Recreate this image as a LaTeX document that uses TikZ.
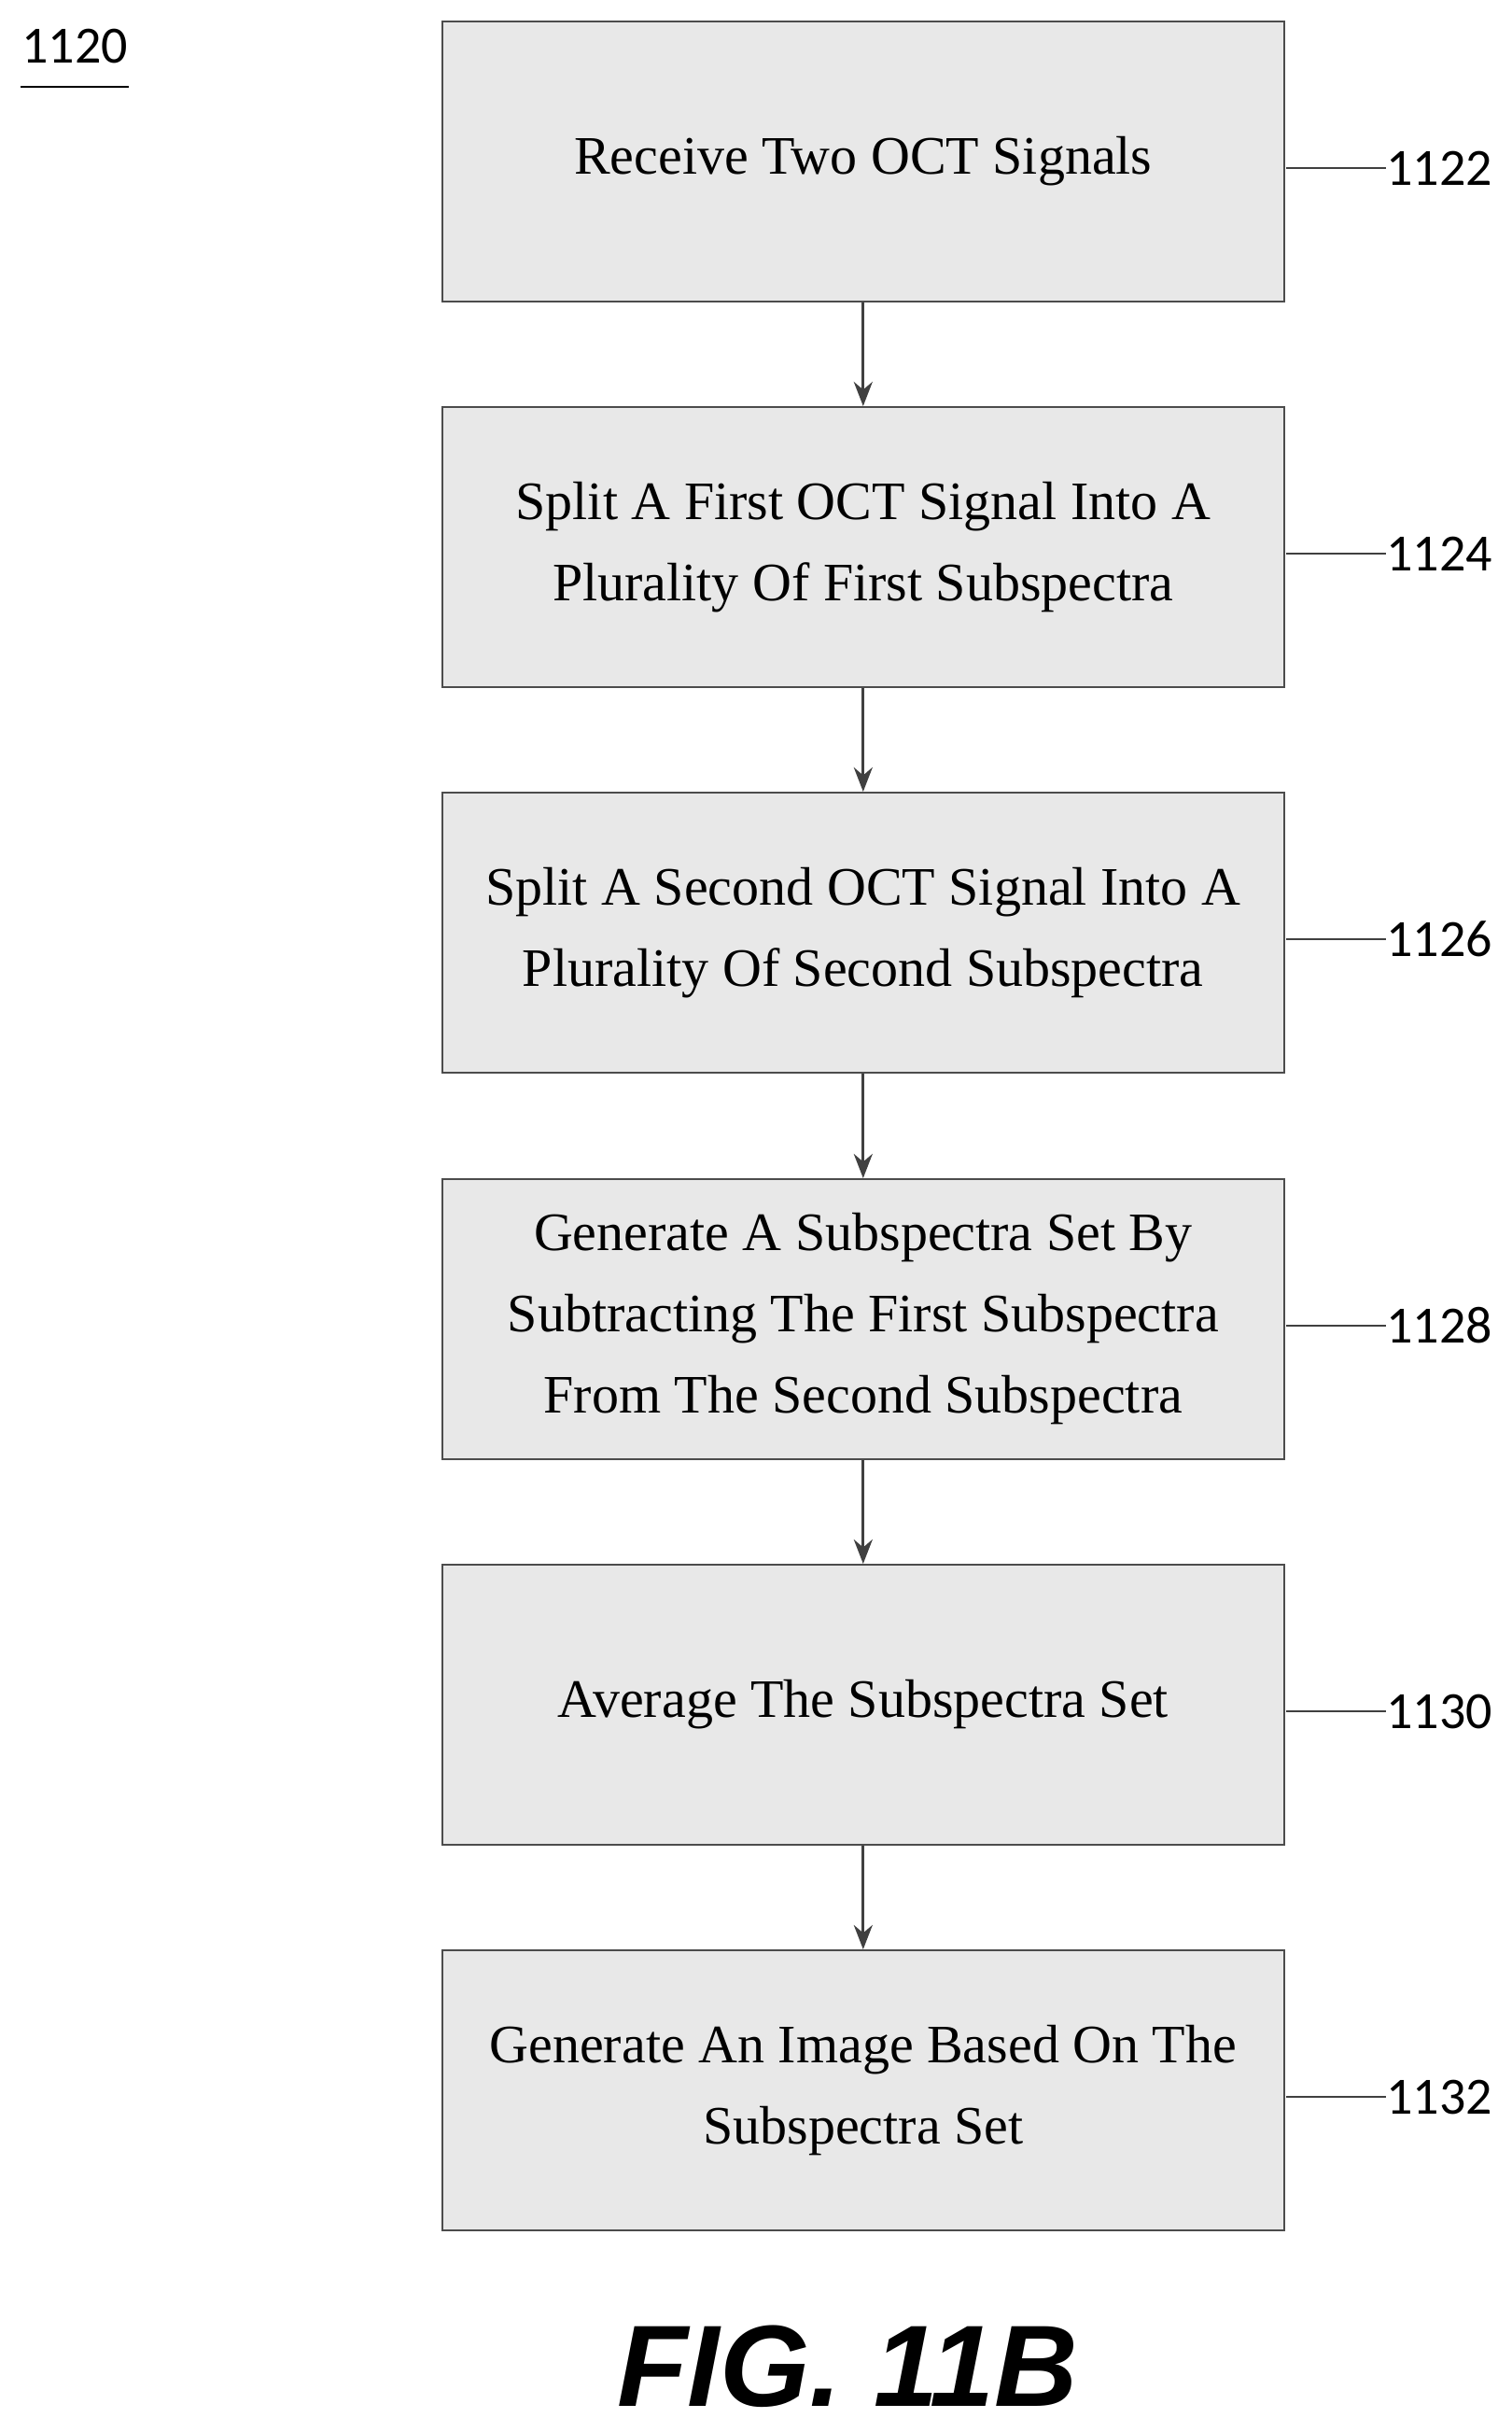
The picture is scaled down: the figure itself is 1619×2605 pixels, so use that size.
\documentclass[tikz,border=0pt]{standalone}
\usepackage{fontspec}
\setmainfont{Liberation Serif}
\newfontfamily\lab{Carlito}
\newfontfamily\figf{Liberation Sans}
\usetikzlibrary{arrows.meta}
\begin{document}
\begin{tikzpicture}[x=0.5pt,y=-0.5pt,
 box/.style={draw=black!70,line width=0.8pt,fill=black!9,minimum width=451pt,minimum height=150pt,anchor=north west,inner sep=0pt,align=center,font=\fontsize{29}{43.5}\selectfont},
 lbl/.style={font=\lab\fontsize{28}{30}\selectfont,anchor=west,inner sep=0pt},
 arr/.style={draw=black!75,line width=1.6pt,-{Stealth[length=13pt,width=10pt]}},
 ld/.style={draw=black!75,line width=1pt}]
\useasboundingbox (0,0) rectangle (1619,2605);
\node[font=\lab\fontsize{28}{30}\selectfont,anchor=center] (t) at (80,50) {1120};
\draw[line width=1pt] (22,93) -- (138,93);
\foreach \n/\y/\txt/\lb in {1/22/{Receive Two OCT Signals}/1122,
 2/435/{Split A First OCT Signal Into A\\Plurality Of First Subspectra}/1124,
 3/848/{Split A Second OCT Signal Into A\\Plurality Of Second Subspectra}/1126,
 4/1262/{Generate A Subspectra Set By\\Subtracting The First Subspectra\\From The Second Subspectra}/1128,
 5/1675/{Average The Subspectra Set}/1130,
 6/2088/{Generate An Image Based On The\\Subspectra Set}/1132}{
 \node[box] (b\n) at (473,\y) {\txt};
 \coordinate (c\n) at (1378,\y+158);
 \node[lbl] (l\n) at (1485,\y+158) {\lb};
 \draw[ld] (c\n) -- (l\n.west);
}
\foreach \a/\b in {1/2,2/3,3/4,4/5,5/6}{\draw[arr] (b\a.south) -- (b\b.north);}
\node[font=\figf\bfseries\itshape\fontsize{62}{68}\selectfont] (fig) at (908,2535) {FIG. 11B};
\end{tikzpicture}
\end{document}
